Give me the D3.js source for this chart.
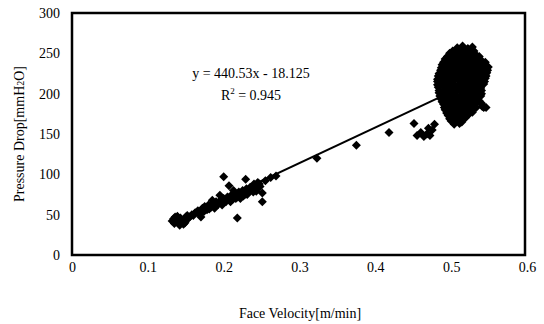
<!DOCTYPE html>
<html>
<head>
<meta charset="utf-8">
<script src="https://cdn.jsdelivr.net/npm/d3@7"></script>
<style>
  body { margin: 0; background: #fff; }
  text { font-family: "Liberation Serif", "Times New Roman", serif; fill: #000; }
</style>
</head>
<body>
<div id="chart"></div>
<script>
// tick labels
var xTicks = [0, 0.1, 0.2, 0.3, 0.4, 0.5, 0.6];
var yTicks = [0, 50, 100, 150, 200, 250, 300];

// measured points [face velocity, pressure drop], low velocity group
var lowGroup = [
  [0.132, 42], [0.135, 39], [0.138, 44], [0.140, 40], [0.143, 46], [0.145, 41],
  [0.148, 43], [0.150, 47], [0.153, 45], [0.136, 47], [0.142, 37], [0.147, 38],
  [0.134, 45], [0.139, 48], [0.144, 43], [0.149, 40], [0.152, 49], [0.155, 47],
  [0.158, 50], [0.162, 52], [0.166, 55], [0.170, 47], [0.172, 58], [0.175, 60],
  [0.160, 49], [0.164, 53], [0.168, 51], [0.171, 55], [0.174, 54], [0.177, 59],
  [0.178, 56], [0.180, 62], [0.183, 59], [0.186, 64], [0.188, 58], [0.190, 66],
  [0.181, 57], [0.184, 61], [0.187, 60], [0.191, 62], [0.194, 66], [0.197, 65],
  [0.193, 63], [0.196, 68], [0.198, 62], [0.200, 70], [0.203, 66], [0.205, 72],
  [0.201, 67], [0.204, 69], [0.207, 71], [0.209, 66], [0.211, 72], [0.214, 73],
  [0.208, 68], [0.210, 74], [0.212, 69], [0.215, 76], [0.218, 72], [0.220, 78],
  [0.216, 70], [0.219, 75], [0.221, 74], [0.224, 77], [0.226, 73], [0.229, 79],
  [0.222, 70], [0.225, 80], [0.228, 75], [0.230, 82], [0.232, 77], [0.235, 84],
  [0.231, 75], [0.234, 81], [0.237, 83], [0.239, 78], [0.242, 86], [0.244, 82],
  [0.238, 80], [0.218, 46], [0.200, 97], [0.207, 86], [0.229, 94], [0.240, 88],
  [0.245, 90], [0.251, 77], [0.251, 66], [0.248, 85], [0.255, 92], [0.262, 96],
  [0.185, 68], [0.195, 74], [0.213, 80], [0.247, 88], [0.243, 79]
];

// scattered points between the groups
var midPoints = [
  [0.269, 98], [0.323, 120], [0.375, 136], [0.418, 152], [0.451, 163],
  [0.455, 148], [0.460, 152], [0.464, 147], [0.468, 150], [0.472, 148],
  [0.475, 155], [0.478, 162], [0.470, 157]
];

// high velocity group
var highGroup = [
  [0.508, 257], [0.515, 259], [0.522, 256], [0.528, 258],
  [0.502, 253], [0.509, 254], [0.516, 253], [0.523, 254], [0.530, 253],
  [0.498, 250], [0.505, 251], [0.512, 249], [0.520, 252], [0.527, 250], [0.533, 248],
  [0.495, 246], [0.502, 247], [0.509, 246], [0.516, 247], [0.523, 246], [0.530, 247], [0.537, 246],
  [0.492, 243], [0.499, 244], [0.506, 242], [0.513, 243], [0.520, 245], [0.527, 242], [0.534, 243], [0.540, 241],
  [0.490, 239], [0.497, 240], [0.504, 239], [0.511, 240], [0.518, 239], [0.525, 240], [0.532, 239], [0.539, 240], [0.545, 239],
  [0.488, 236], [0.495, 237], [0.502, 235], [0.509, 236], [0.516, 238], [0.523, 235], [0.530, 236], [0.537, 234], [0.543, 236],
  [0.487, 232], [0.494, 233], [0.501, 232], [0.508, 233], [0.515, 232], [0.522, 233], [0.529, 232], [0.536, 233], [0.543, 232], [0.549, 233],
  [0.486, 229], [0.493, 230], [0.500, 228], [0.507, 229], [0.514, 231], [0.521, 228], [0.528, 229], [0.535, 230], [0.542, 228], [0.548, 229],
  [0.484, 225], [0.491, 226], [0.498, 225], [0.505, 226], [0.512, 225], [0.519, 226], [0.526, 225], [0.533, 226], [0.540, 225], [0.547, 226],
  [0.483, 222], [0.490, 223], [0.497, 221], [0.504, 222], [0.511, 224], [0.518, 221], [0.525, 222], [0.532, 223], [0.539, 221], [0.546, 222],
  [0.482, 218], [0.489, 219], [0.496, 218], [0.503, 219], [0.510, 218], [0.517, 219], [0.524, 218], [0.531, 219], [0.538, 218], [0.545, 219],
  [0.482, 215], [0.489, 216], [0.496, 214], [0.503, 215], [0.510, 217], [0.517, 214], [0.524, 215], [0.531, 216], [0.538, 214], [0.544, 215],
  [0.482, 211], [0.489, 212], [0.496, 211], [0.503, 212], [0.510, 211], [0.517, 212], [0.524, 211], [0.531, 212], [0.538, 211], [0.543, 212],
  [0.483, 208], [0.490, 209], [0.497, 207], [0.504, 208], [0.511, 210], [0.518, 207], [0.525, 208], [0.532, 209], [0.539, 207],
  [0.484, 204], [0.491, 205], [0.498, 204], [0.505, 205], [0.512, 204], [0.519, 205], [0.526, 204], [0.533, 205], [0.540, 204],
  [0.484, 201], [0.491, 202], [0.498, 200], [0.505, 201], [0.512, 203], [0.519, 200], [0.526, 201], [0.533, 202], [0.540, 200],
  [0.485, 197], [0.492, 198], [0.499, 197], [0.506, 198], [0.513, 197], [0.520, 198], [0.527, 197], [0.534, 198], [0.539, 197],
  [0.486, 194], [0.493, 195], [0.500, 193], [0.507, 194], [0.514, 196], [0.521, 193], [0.528, 194], [0.535, 195],
  [0.488, 190], [0.495, 191], [0.502, 190], [0.509, 191], [0.516, 190], [0.523, 191], [0.530, 190], [0.537, 191],
  [0.490, 187], [0.497, 188], [0.504, 186], [0.511, 187], [0.518, 189], [0.525, 186], [0.532, 187], [0.540, 188],
  [0.491, 183], [0.498, 184], [0.505, 183], [0.512, 184], [0.519, 183], [0.526, 184], [0.533, 183], [0.541, 184], [0.546, 183],
  [0.492, 180], [0.499, 181], [0.506, 179], [0.513, 180], [0.520, 182], [0.527, 179], [0.543, 183],
  [0.494, 176], [0.501, 177], [0.508, 176], [0.515, 177], [0.522, 176], [0.528, 177],
  [0.496, 173], [0.503, 174], [0.510, 172], [0.517, 173], [0.524, 175],
  [0.498, 169], [0.505, 170], [0.512, 169], [0.519, 170],
  [0.500, 166], [0.507, 167], [0.514, 165],
  [0.504, 162], [0.511, 163]
];

// linear fit shown on the chart
var fitSlope = 440.53;
var fitIntercept = -18.125;
var fitRange = [0.13, 0.55];
var fitLabels = ["y = 440.53x - 18.125", "R", "2", " = 0.945"];

var width = 544, height = 324;
var plot = {left: 72, top: 13, right: 525, bottom: 255};

var x = d3.scaleLinear().domain([0, 0.6]).range([plot.left, plot.right + 2]);
var y = d3.scaleLinear().domain([0, 300]).range([plot.bottom, plot.top]);

var svg = d3.select("#chart").append("svg")
    .attr("width", width)
    .attr("height", height);

// trend line
var fitLine = d3.line()
    .x(function(d) { return x(d); })
    .y(function(d) { return y(fitSlope * d + fitIntercept); });

svg.append("path")
    .datum(fitRange)
    .attr("d", fitLine)
    .attr("fill", "none")
    .attr("stroke", "#000")
    .attr("stroke-width", 2);

// diamond markers
var allPoints = lowGroup.concat(midPoints, highGroup);
var r = 4.5;
svg.append("g").selectAll("path")
    .data(allPoints)
    .enter().append("path")
    .attr("d", "M0," + (-r) + "L" + r + ",0L0," + r + "L" + (-r) + ",0Z")
    .attr("transform", function(d) { return "translate(" + x(d[0]) + "," + y(d[1]) + ")"; })
    .attr("fill", "#000");

// frame
svg.append("rect")
    .attr("x", plot.left)
    .attr("y", plot.top)
    .attr("width", plot.right - plot.left)
    .attr("height", plot.bottom - plot.top)
    .attr("fill", "none")
    .attr("stroke", "#000")
    .attr("stroke-width", 2.5);

// axes (labels only)
var xAxis = svg.append("g")
    .attr("transform", "translate(0," + plot.bottom + ")")
    .call(d3.axisBottom(x).tickValues(xTicks).tickSize(0).tickPadding(7)
        .tickFormat(function(d) { return d === 0 ? "0" : d3.format(".1f")(d); }));
xAxis.select(".domain").remove();
xAxis.selectAll("text").attr("font-size", 14).attr("font-family", null);

var yAxis = svg.append("g")
    .attr("transform", "translate(" + plot.left + ",0)")
    .call(d3.axisLeft(y).tickValues(yTicks).tickSize(0).tickPadding(12));
yAxis.select(".domain").remove();
yAxis.selectAll("text").attr("font-size", 14).attr("font-family", null);

// axis titles
svg.append("text")
    .attr("x", 300)
    .attr("y", 318)
    .attr("text-anchor", "middle")
    .attr("font-size", 14)
    .text("Face Velocity[m/min]");

var yTitle = svg.append("text")
    .attr("transform", "translate(24,134) rotate(-90)")
    .attr("text-anchor", "middle")
    .attr("font-size", 14);
yTitle.append("tspan").text("Pressure Drop[mmH");
yTitle.append("tspan").attr("font-size", 10).text("2");
yTitle.append("tspan").text("O]");

// equation
svg.append("text")
    .attr("x", 251)
    .attr("y", 78)
    .attr("text-anchor", "middle")
    .attr("font-size", 14)
    .text(fitLabels[0]);

var r2 = svg.append("text")
    .attr("x", 251)
    .attr("y", 100)
    .attr("text-anchor", "middle")
    .attr("font-size", 14);
r2.append("tspan").text(fitLabels[1]);
r2.append("tspan").attr("font-size", 9).attr("dy", -6).text(fitLabels[2]);
r2.append("tspan").attr("dy", 6).text(fitLabels[3]);
</script>
</body>
</html>
